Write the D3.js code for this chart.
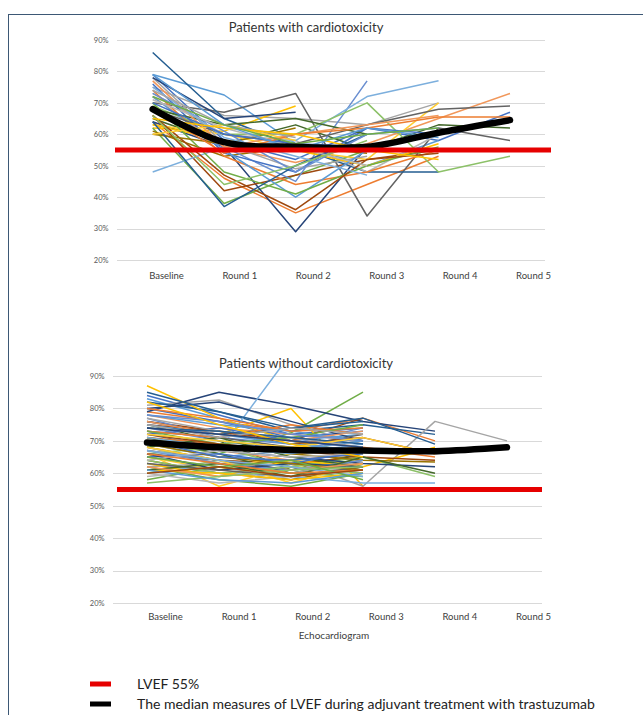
<!DOCTYPE html>
<html>
<head>
<meta charset="utf-8">
<script src="https://cdn.jsdelivr.net/npm/d3@7"></script>
<style>
  html, body { margin: 0; padding: 0; background: #fff; }
  svg { display: block; font-family: Lato, "Open Sans", "Liberation Sans", sans-serif; }
</style>
</head>
<body>
<svg id="chart" width="643" height="715"></svg>
<script>
// ---- data -------------------------------------------------------------
const categories = ["Baseline", "Round 1", "Round 2", "Round 3", "Round 4", "Round 5"];
const yTicks = [20, 30, 40, 50, 60, 70, 80, 90];
const lvefThreshold = 55;

// median LVEF (%) per echocardiogram round
const medianWith    = [68, 57.5, 56, 56, 60.5, 64.5];
const medianWithout = [69.5, 68, 67.2, 67, 66.8, 68];

// individual patients, LVEF (%) per round; a shorter row = fewer follow-ups
const patientsWith = [
  [79, 58, 52, 62, 58, 67],
  [64, 46, 35, 44, 53],
  [75, 66, 65, 63, 70],
  [62, 61, 69],
  [79, 72.5, 57, 50, 58],
  [62, 38, 47, 55],
  [64, 56, 29, 56],
  [66, 42, 47, 52, 55],
  [70, 67, 73, 34, 62, 58],
  [61, 53, 56, 54],
  [86, 65, 56, 48, 48],
  [65, 57, 63, 55, 63, 62],
  [68, 56, 45, 77],
  [72, 56, 51, 57, 65, 73],
  [73, 60, 58, 48, 60],
  [63, 60, 55, 52, 70],
  [48, 56, 58, 72, 77],
  [69, 60, 60, 70, 48, 53],
  [76, 54, 48, 62, 60],
  [74, 53, 44, 48, 55],
  [78, 57, 49, 53],
  [63, 58, 55, 50, 57],
  [72, 55, 40, 55, 60],
  [70, 48, 41, 50, 56],
  [78, 65, 67],
  [66, 47, 36, 52, 54],
  [68, 60, 57, 63, 68, 69],
  [60, 57, 62],
  [64, 37, 50, 60],
  [68, 63, 65, 60],
  [73, 61, 48, 60, 62],
  [77, 56, 60, 63, 66],
  [71, 62, 56, 50],
  [60, 63, 58],
  [75, 59, 53, 47],
  [66, 44, 50, 58],
  [70, 60, 57, 56],
  [68, 54, 60, 62, 65.5, 65.5],
  [74, 63, 59],
  [65, 62, 60, 55, 52],
  [79, 63, 55, 62, 59],
  [72, 63, 57, 60, 62]
];

const patientsWithout = [
  [84, 78, 72, 74], [79, 76, 73, 77, 70], [81, 82.6, 75, 69], [74, 72, 80, 56],
  [83, 77, 70, 72], [70, 66, 72.5, 85], [79, 85, 81, 76, 73], [76, 73, 70, 77],
  [72, 68, 66, 67, 66, 67.5], [68, 64, 62, 66], [82, 79, 73, 75, 72], [75, 70, 61, 66],
  [77, 71, 69, 74], [78, 74, 72, 70], [65, 62, 58, 62], [66, 56, 62, 64],
  [73, 67, 97], [60, 64, 60, 63], [80, 76, 71, 73], [71, 69, 66, 68, 65],
  [68, 63, 64, 56, 76, 70], [87, 77, 70, 66], [69, 65, 67, 70], [62, 58, 56, 60],
  [80, 82, 76, 70], [67, 64, 63, 65], [73, 71, 68, 72], [64, 60, 58, 62],
  [76, 72, 74, 77, 69], [71, 66, 60, 64], [74, 70, 67, 71], [70, 67, 64, 66],
  [59, 61, 63, 60], [65, 61, 66, 68], [63, 60, 59, 57, 57], [66, 68, 62, 65, 59],
  [72, 74, 70, 68], [73, 71, 75, 72], [62, 63, 60, 64], [63, 59, 64, 62, 68],
  [78, 75, 73, 70], [58, 62, 60, 59], [69, 67, 65, 63, 62], [75, 73, 69, 71, 66],
  [66, 64, 61, 63], [71, 68, 66, 64, 63.5], [85, 79, 74, 76], [68, 71, 65, 62],
  [67, 63, 61, 64], [76, 72, 70, 73], [60, 57, 59, 61], [68, 64, 57, 63],
  [71, 68, 66, 69], [64, 60, 62, 60], [65, 66, 63, 67], [80, 77, 73, 74],
  [77, 73, 71, 68], [61, 60, 58, 60], [75, 72, 69, 67], [73, 69, 71, 75],
  [66, 61, 63, 62], [72, 69, 67, 65, 64], [63, 61, 59, 62], [69, 65, 63, 61],
  [74, 73, 71, 69], [61, 63, 59, 65, 60], [78, 76, 72, 70], [62, 59, 61, 63],
  [64, 67, 65, 66], [72, 70, 68, 71, 66], [67, 64, 62, 59], [57, 59, 61, 62],
  [70, 65, 64, 66], [66, 63, 60, 61], [75, 71, 74, 72], [82, 75, 69, 65],
  [61, 58, 57, 60], [65, 62, 64, 58], [74, 72, 70, 68], [60, 62, 59, 61]
];

const legendItems = [
  { label: "LVEF 55%", color: "#e60000" },
  { label: "The median measures of LVEF during adjuvant treatment  with trastuzumab", color: "#000000" }
];

// Office-style series colours, cycled through the patient rows
const palette = [
  "#4472C4", "#ED7D31", "#A5A5A5", "#FFC000", "#5B9BD5", "#70AD47",
  "#264478", "#9E480E", "#636363", "#997300", "#255E91", "#43682B",
  "#698ED0", "#F1975A", "#B7B7B7", "#FFCD33", "#7CAFDD", "#8CC168"
];

// ---- drawing ----------------------------------------------------------
const svg = d3.select("#chart");

// outer frame
svg.append("rect")
  .attr("x", 8.5).attr("y", 14.5).attr("width", 700).attr("height", 800)
  .attr("fill", "none").attr("stroke", "#3d5875").attr("stroke-width", 1);

function drawPanel(cfg) {
  const g = svg.append("g");
  const x = d3.scalePoint().domain(categories).range(cfg.xRange);
  const xLabel = d3.scalePoint().domain(categories).range(cfg.labelRange);
  const y = d3.scaleLinear().domain([20, 90]).range(cfg.yRange);

  const clipId = "clip-" + cfg.id;
  svg.append("clipPath").attr("id", clipId)
    .append("rect")
    .attr("x", cfg.gridX[0] - 10).attr("y", cfg.clipTop)
    .attr("width", cfg.gridX[1] - cfg.gridX[0] + 40)
    .attr("height", cfg.yRange[0] - cfg.clipTop + 10);

  // title
  g.append("text")
    .attr("x", cfg.titleX).attr("y", cfg.titleY)
    .attr("text-anchor", "middle")
    .attr("font-size", 13).attr("fill", "#333")
    .text(cfg.title);

  // gridlines
  g.append("g").selectAll("line").data(yTicks).join("line")
    .attr("x1", cfg.gridX[0]).attr("x2", cfg.gridX[1])
    .attr("y1", d => Math.round(y(d)) + 0.5).attr("y2", d => Math.round(y(d)) + 0.5)
    .attr("stroke", "#d9d9d9").attr("stroke-width", 1);

  // y axis labels
  const yAxis = d3.axisLeft(y).tickValues(yTicks).tickFormat(d => d + "%").tickSize(0).tickPadding(0);
  const ya = g.append("g").attr("transform", `translate(${cfg.tickX},0)`).call(yAxis);
  ya.select(".domain").remove();
  ya.selectAll("text").attr("font-size", 7.5).attr("fill", "#595959")
    .attr("font-family", "Lato, 'Open Sans', sans-serif");

  // category labels
  const xAxis = d3.axisBottom(xLabel).tickSize(0).tickPadding(0);
  const xa = g.append("g").attr("transform", `translate(0,${cfg.catY})`).call(xAxis);
  xa.select(".domain").remove();
  xa.selectAll("text").attr("font-size", 9.5).attr("fill", "#404040").attr("dy", 0)
    .attr("font-family", "Lato, 'Open Sans', sans-serif");

  const line = d3.line().x((d, i) => x(categories[i])).y(d => y(d));
  const smooth = d3.line().x((d, i) => x(categories[i])).y(d => y(d)).curve(d3.curveCatmullRom.alpha(0.5));

  const refLine = () => g.append("line")
    .attr("x1", cfg.redX[0]).attr("x2", cfg.redX[1])
    .attr("y1", y(lvefThreshold)).attr("y2", y(lvefThreshold))
    .attr("stroke", "#e60000").attr("stroke-width", 5);

  if (!cfg.redOnTop) refLine();

  const plot = g.append("g").attr("clip-path", `url(#${clipId})`);
  plot.selectAll("path.patient").data(cfg.patients).join("path")
    .attr("class", "patient")
    .attr("d", d => line(d))
    .attr("fill", "none")
    .attr("stroke", (d, i) => palette[i % palette.length])
    .attr("stroke-width", 1.5)
    .attr("stroke-linejoin", "round");

  plot.append("path")
    .attr("d", smooth(cfg.median))
    .attr("fill", "none").attr("stroke", "#000")
    .attr("stroke-width", 6.5).attr("stroke-linecap", "round").attr("stroke-linejoin", "round");

  if (cfg.redOnTop) refLine();

  if (cfg.xTitle) {
    g.append("text")
      .attr("x", cfg.xTitle.x).attr("y", cfg.xTitle.y)
      .attr("text-anchor", "middle")
      .attr("font-size", 10).attr("fill", "#404040")
      .text(cfg.xTitle.text);
  }
}

drawPanel({
  id: "with", title: "Patients with cardiotoxicity", titleX: 306, titleY: 32,
  patients: patientsWith, median: medianWith,
  xRange: [152.7, 510], labelRange: [166, 533], yRange: [260, 40],
  gridX: [117, 545], tickX: 108.5, catY: 279, redX: [115, 551], redOnTop: true, clipTop: 20
});

drawPanel({
  id: "without", title: "Patients without cardiotoxicity", titleX: 306, titleY: 368,
  patients: patientsWithout, median: medianWithout,
  xRange: [147, 507], labelRange: [165, 533], yRange: [603, 376],
  gridX: [113, 542], tickX: 104.5, catY: 620, redX: [117, 542], redOnTop: false, clipTop: 367,
  xTitle: { text: "Echocardiogram", x: 334, y: 639 }
});

// legend
const legend = svg.append("g").selectAll("g").data(legendItems).join("g")
  .attr("transform", (d, i) => `translate(90,${684 + i * 20})`);
legend.append("rect").attr("x", 0).attr("y", -2.5).attr("width", 21).attr("height", 5)
  .attr("fill", d => d.color);
legend.append("text").attr("x", 47).attr("y", 0).attr("dy", "0.35em")
  .attr("font-size", 14).attr("fill", "#222").text(d => d.label);
</script>
</body>
</html>
